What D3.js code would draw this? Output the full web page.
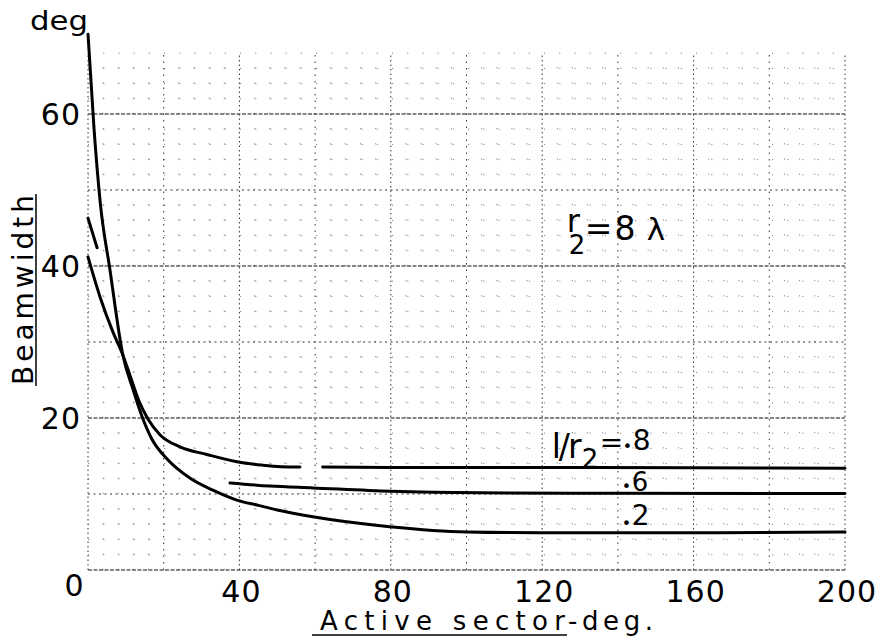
<!DOCTYPE html>
<html>
<head>
<meta charset="utf-8">
<script src="https://cdn.jsdelivr.net/npm/d3@7"></script>
<style>
  html, body { margin: 0; padding: 0; background: #fff; }
  svg { display: block; }
  text { font-family: "DejaVu Sans", "Liberation Sans", sans-serif; fill: #000; }
</style>
</head>
<body>
<svg id="chart" width="884" height="643"></svg>
<script>
// Beamwidth versus active sector, r2 = 8 lambda, for three values of l/r2
const xTicks = [40, 80, 120, 160, 200];
const yTicks = [20, 40, 60];

// l/r2 = .8
const ratio08 = [
  [0, 41.2], [3.2, 35.9], [6.6, 31.3], [9.2, 28.3], [11.1, 25.6], [13.5, 22.2],
  [15.8, 19.9], [19, 17.8], [24.3, 16.2], [31.4, 15.2], [40.9, 14.1],
  [46, 13.8], [51, 13.6], [56, 13.55], null,
  [62, 13.55], [80, 13.5], [120, 13.5], [160, 13.45], [200, 13.4]
];
// l/r2 = .6
const ratio06 = [
  [0, 46.3], [2.4, 42.4], null,
  [37.5, 11.45], [48, 11.05], [59.4, 10.8], [80, 10.35], [104, 10.15],
  [140, 10.1], [200, 10.05]
];
// l/r2 = .2
const ratio02 = [
  [0, 70.5], [1.6, 58], [3.2, 48.5], [5.8, 39.5], [9.2, 28.3], [12, 23.6],
  [14.2, 20.3], [16.9, 17.2], [20.9, 14.6], [26.9, 12.1], [33, 10.5],
  [39.3, 9.2], [45, 8.5], [50, 7.9], [59.4, 7.0], [79.7, 5.7], [100, 5.0],
  [120, 4.9], [160, 4.9], [200, 5.0]
];

const svg = d3.select("#chart");
svg.append("rect").attr("width", 884).attr("height", 643).attr("fill", "#fff");

const x = d3.scaleLinear().domain([0, 200]).range([88, 845]);
const y = d3.scaleLinear().domain([0, 70]).range([570, 38]);
const yTop = 68;

// graph-paper grid
const grid = svg.append("g").attr("class", "grid").attr("fill", "none");

// fine rulings
grid.selectAll("line.hfine")
  .data(d3.range(2, yTop + 1, 2).filter(v => v % 10 !== 0))
  .join("line")
  .attr("x1", x(0)).attr("x2", x(200))
  .attr("y1", d => y(d)).attr("y2", d => y(d))
  .attr("stroke", "#888").attr("stroke-width", 1)
  .attr("stroke-dasharray", "1.2 14");
grid.selectAll("line.vfine")
  .data(d3.range(4, 200, 4).filter(v => v % 20 !== 0))
  .join("line")
  .attr("x1", d => x(d)).attr("x2", d => x(d))
  .attr("y1", y(0)).attr("y2", y(yTop))
  .attr("stroke", "#888").attr("stroke-width", 1)
  .attr("stroke-dasharray", "1.2 14");

// 10-unit horizontal rulings
grid.selectAll("line.h10")
  .data([10, 30, 50])
  .join("line")
  .attr("x1", x(0)).attr("x2", x(200))
  .attr("y1", d => y(d)).attr("y2", d => y(d))
  .attr("stroke", "#333").attr("stroke-width", 1)
  .attr("stroke-dasharray", "2 3.5");
// 20-unit horizontal rulings
grid.selectAll("line.h20")
  .data([0, 20, 40, 60])
  .join("line")
  .attr("x1", x(0)).attr("x2", x(200))
  .attr("y1", d => y(d)).attr("y2", d => y(d))
  .attr("stroke", "#111").attr("stroke-width", 1.2)
  .attr("stroke-dasharray", "4 1.5");
// vertical rulings every 20
grid.selectAll("line.v20")
  .data(d3.range(0, 201, 20))
  .join("line")
  .attr("x1", d => x(d)).attr("x2", d => x(d))
  .attr("y1", y(0)).attr("y2", y(yTop))
  .attr("stroke", "#333").attr("stroke-width", 1)
  .attr("stroke-dasharray", d => d % 40 === 0 ? "1.5 3" : "1.5 5");

// curves
const line = d3.line()
  .defined(d => d !== null)
  .x(d => x(d[0]))
  .y(d => y(d[1]))
  .curve(d3.curveMonotoneX);

const curves = svg.append("g").attr("fill", "none").attr("stroke", "#000")
  .attr("stroke-linecap", "round").attr("stroke-linejoin", "round");
[ratio08, ratio06, ratio02].forEach(s => {
  curves.append("path").attr("d", line(s)).attr("stroke-width", 3);
});

// axis numerals
svg.append("g").selectAll("text")
  .data(yTicks)
  .join("text")
  .attr("x", 81).attr("y", d => y(d) + 11)
  .attr("text-anchor", "end")
  .attr("font-size", 30).attr("letter-spacing", 1)
  .text(d => d);
svg.append("text")
  .attr("x", 74).attr("y", 596)
  .attr("text-anchor", "middle")
  .attr("font-size", 30)
  .text("0");
svg.append("g").selectAll("text")
  .data(xTicks)
  .join("text")
  .attr("x", d => x(d) + 2).attr("y", 602)
  .attr("text-anchor", "middle")
  .attr("font-size", 30).attr("letter-spacing", 1)
  .text(d => d);

// unit at the top of the ordinate
svg.append("text")
  .attr("x", 30).attr("y", 30)
  .attr("font-size", 26)
  .attr("textLength", 58).attr("lengthAdjust", "spacingAndGlyphs")
  .text("deg");

// ordinate title, underlined
svg.append("text")
  .attr("transform", "translate(33,290) rotate(-90)")
  .attr("text-anchor", "middle")
  .attr("font-size", 28)
  .attr("textLength", 190).attr("lengthAdjust", "spacing")
  .text("Beamwidth");
svg.append("line")
  .attr("transform", "translate(33,290) rotate(-90)")
  .attr("x1", -96).attr("x2", 96)
  .attr("y1", 3).attr("y2", 3)
  .attr("stroke", "#000").attr("stroke-width", 1.5);

// abscissa title, first part underlined
svg.append("text")
  .attr("x", 320).attr("y", 630)
  .attr("font-size", 26)
  .attr("textLength", 245).attr("lengthAdjust", "spacing")
  .text("Active sector");
svg.append("text")
  .attr("x", 568).attr("y", 630)
  .attr("font-size", 26)
  .attr("textLength", 85).attr("lengthAdjust", "spacing")
  .text("-deg.");
svg.append("line")
  .attr("x1", 312).attr("x2", 567)
  .attr("y1", 635).attr("y2", 635)
  .attr("stroke", "#000").attr("stroke-width", 1.5);

// curve annotations: each piece placed from a base point
function label(bx, by, parts) {
  const g = svg.append("text");
  parts.forEach(p => {
    const s = g.append("tspan")
      .attr("x", bx + p.dx).attr("y", by + p.dy)
      .attr("font-size", p.fs)
      .text(p.t);
    if (p.ls !== undefined) s.attr("letter-spacing", p.ls);
  });
}
label(x(126.5), y(44.5), [
  { t: "r", dx: 0, dy: 0, fs: 32 },
  { t: "2", dx: 2, dy: 22, fs: 26 },
  { t: "=8", dx: 18, dy: 8, fs: 33, ls: 2 },
  { t: "λ", dx: 80, dy: 8, fs: 31 }
]);
label(x(122.5), y(14.8), [
  { t: "l/r", dx: 0, dy: 0, fs: 33, ls: -2 },
  { t: "2", dx: 30, dy: 10, fs: 26 },
  { t: "=", dx: 48, dy: -6, fs: 28 },
  { t: "•", dx: 71, dy: -6, fs: 16 },
  { t: "8", dx: 81, dy: -8, fs: 28 }
]);
label(x(141), y(10.2), [
  { t: "•", dx: 0, dy: 0, fs: 16 },
  { t: "6", dx: 10, dy: -1, fs: 26 }
]);
label(x(141), y(5.4), [
  { t: "•", dx: 0, dy: 0, fs: 16 },
  { t: "2", dx: 10, dy: -4, fs: 28 }
]);
</script>
</body>
</html>
